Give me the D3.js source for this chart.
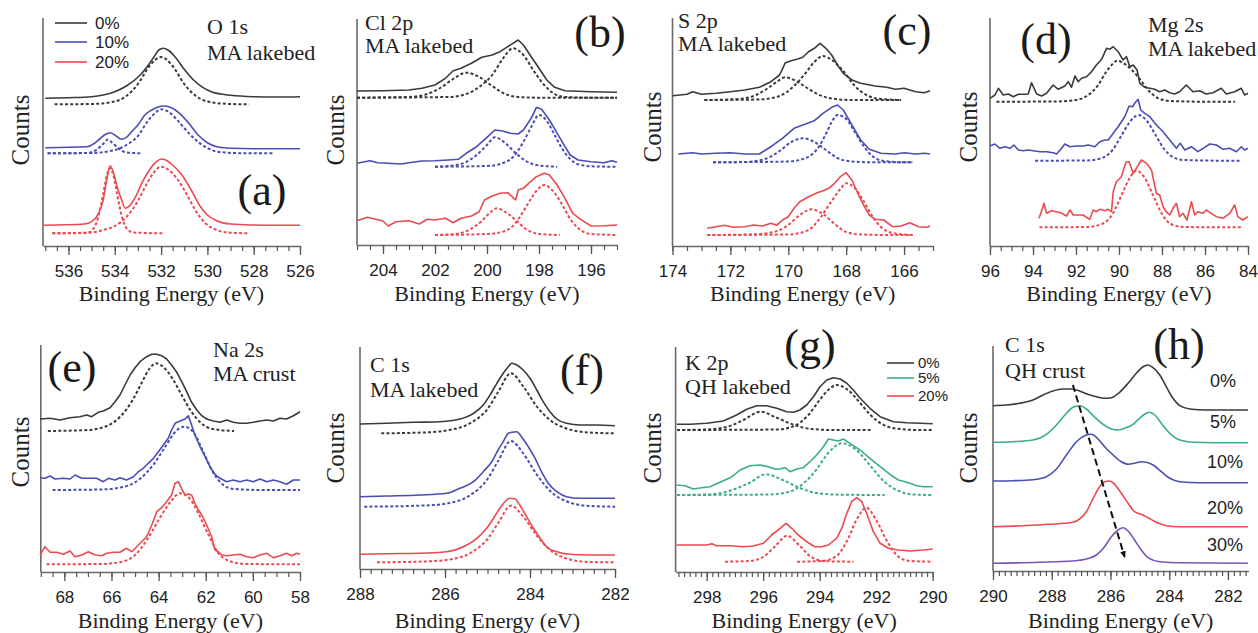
<!DOCTYPE html>
<html>
<head>
<meta charset="utf-8">
<script src="https://cdn.jsdelivr.net/npm/d3@7"></script>
<style>
  body { margin: 0; background: #fff; }
  svg { display: block; }
</style>
</head>
<body>
<div class="chart"></div>
<script>
// ---------- 데이터: [Binding Energy (eV), Counts(임의 단위, 오프셋 포함)] ----------

// (a) O 1s MA lakebed
const aTicks = [536, 534, 532, 530, 528, 526];
const aBlack = [[537,147.7],[536,148.3],[535,149.3],[534.5,151],[534,154.3],[533.5,160],[533,168.7],[532.6,179.3],[532.3,189.3],[532.1,196],[531.9,197.7],[531.7,196],[531.4,189.3],[531,176.7],[530.6,166],[530.2,158.7],[529.8,154],[529,150.7],[528,149.3],[527,149],[526,149.3]];
const aBlackFit = [[536.6,141.7],[535,142],[534,144.5],[533.5,150],[533,162],[532.5,180],[532,189],[531.5,180],[531,162],[530.5,150],[530,144.5],[529,142],[528.2,141.7]];
const aBlue = [[537,98.3],[535.2,99.3],[535,101],[534.7,106],[534.4,111.7],[534.2,113.3],[534,111],[533.7,106.7],[533.5,108.7],[533.2,116],[533,121],[532.7,131],[532.4,136],[532.1,139.3],[531.9,140],[531.6,138.7],[531.2,132.7],[530.8,122.7],[530.4,111],[530,103.3],[529.6,99.3],[529,97.7],[528,97.3],[527,97.3],[526,97.3]];
const aBlueFit1 = [[536.9,92.7],[535.2,93],[534.8,96],[534.5,102],[534.3,106.5],[534.1,103],[533.8,97],[533.5,93.5],[532.8,92.7]];
const aBlueFit2 = [[536.9,92.7],[535,93],[534,96],[533.5,101],[533,110],[532.6,124],[532.3,132],[532,136.7],[531.7,134.5],[531.3,126],[531,118],[530.5,106],[530,98],[529.5,94],[528.5,92.8],[527.1,92.7]];
const aRed = [[537.1,20.7],[535.3,22],[535,24.3],[534.7,32.7],[534.5,46],[534.35,66],[534.2,80.3],[534.05,72.7],[533.9,59.3],[533.7,46],[533.55,37.7],[533.4,39.3],[533.1,49.3],[532.8,64.3],[532.5,76],[532.2,84.3],[532,87],[531.8,86],[531.5,81],[531.1,71],[530.7,56],[530.3,39.3],[530,31],[529.6,25.3],[529,22],[528,21],[527,20.7],[526,20.7]];
const aRedFit1 = [[536.7,12.7],[535.2,13],[534.9,18],[534.7,30],[534.5,52],[534.35,70],[534.2,77.7],[534.05,70],[533.9,52],[533.7,30],[533.5,18],[533.2,13.5],[531.9,12.7]];
const aRedFit2 = [[536.7,12.7],[535,13.5],[534.5,16],[534,20],[533.5,29],[533,45],[532.6,63],[532.3,74],[532,79.3],[531.7,76.5],[531.3,67],[530.9,52],[530.5,35],[530.1,23],[529.6,16],[529,13.3],[528.2,12.7]];

// (b) Cl 2p MA lakebed
const bTicks = [204, 202, 200, 198, 196];
const bBlack = [[205,154],[204,154.3],[203,155],[202.5,156.7],[202,160],[201.6,166.7],[201.3,174.3],[201,176.7],[200.6,181.7],[200.2,187.7],[199.8,190],[199.5,193.3],[199.2,198.3],[199,201.7],[198.8,205],[198.6,200],[198.3,188.3],[198,176.7],[197.7,165],[197.4,157.7],[197,154.3],[196,153.3],[195,152.7]];
const bBlackFit1 = [[205,147.3],[203,148],[202.3,151],[201.8,157],[201.3,166],[200.8,172.3],[200.3,168],[199.8,159],[199.3,151],[198.8,148],[198,147.3],[195,147.3]];
const bBlackFit2 = [[205,147.3],[201.5,148],[200.8,151],[200.3,158],[199.8,170],[199.4,186],[199,196.7],[198.6,190],[198.2,174],[197.8,160],[197.4,151],[197,148],[196,147.3],[195,147.3]];
const bBlue = [[205,81.7],[204.5,84.3],[204.2,82.3],[203.8,81.7],[203.3,81],[203,82.3],[202.5,84],[202,84.3],[201.5,85],[201.1,85.7],[200.8,91.7],[200.4,98.3],[200,107.7],[199.7,115],[199.4,114],[199.1,111.7],[198.8,111],[198.6,115],[198.3,126.7],[198.1,137.7],[197.9,135.7],[197.6,125],[197.3,111.7],[197,98.3],[196.8,90],[196.5,85],[196,83.3],[195.5,82.3],[195.2,84.3],[195,82.7]];
const bBlueFit1 = [[202,78.3],[201.3,79.5],[200.8,83],[200.4,90],[200,100],[199.7,107.7],[199.3,102],[198.9,92],[198.5,84],[198,79.5],[197.3,78.3]];
const bBlueFit2 = [[202,78.3],[200,79],[199.5,81],[199,88],[198.6,103],[198.3,118],[198,130],[197.7,124],[197.4,110],[197.1,96],[196.8,86],[196.4,80],[195.8,78.5],[195,78.3]];
const bRed = [[205,24.3],[204.6,27.7],[204,24],[203.8,19],[203.5,23.3],[203,24.3],[202.6,21],[202.3,25.7],[202,25],[201.6,26.7],[201.3,22.3],[201,26.7],[200.6,29],[200.3,33.3],[200.1,45],[199.8,49],[199.5,51.7],[199.2,52.3],[198.9,45],[198.8,55],[198.6,56.7],[198.4,61.7],[198.1,68.3],[197.8,71.7],[197.6,70],[197.3,60],[197,46.7],[196.7,31.7],[196.4,25.7],[196,19],[195.5,19.3],[195,20]];
const bRedFit1 = [[202,10],[201.2,11],[200.7,15],[200.2,24],[199.9,32],[199.6,36.7],[199.3,33],[198.9,25],[198.5,16],[198,11],[197.2,10]];
const bRedFit2 = [[202,10],[200,11],[199.3,14],[198.9,22],[198.5,38],[198.1,54],[197.8,60],[197.5,55],[197.1,40],[196.8,26],[196.4,15],[196,11],[195,10]];

// (c) S 2p MA lakebed
const cTicks = [174, 172, 170, 168, 166];
const cBlack = [[174,150.3],[173.5,151.7],[173.3,154.3],[173,151.7],[172.5,152.7],[172,154.3],[171.5,156],[171,158.7],[170.6,164.3],[170.3,171],[170.1,183.3],[169.9,185.3],[169.7,186.7],[169.5,188.7],[169.3,194.3],[169.1,197.7],[168.9,202.7],[168.7,197.7],[168.5,191],[168.3,181],[168.1,172.7],[167.8,166],[167.5,162.7],[167,160],[166.6,158.7],[166.3,156.7],[166,157.7],[165.6,154.3],[165.3,153.3],[165.1,155.3]];
const cBlackFit1 = [[172.9,146],[172,146.5],[171.3,149],[170.8,156],[170.4,164],[170.1,168.7],[169.8,166],[169.4,159],[169,152],[168.5,147.5],[167.8,146],[166.1,146]];
const cBlackFit2 = [[172.9,146],[171,146.5],[170.3,150],[169.8,160],[169.4,173],[169.1,184],[168.8,190],[168.5,186],[168.1,175],[167.7,160],[167.3,151],[166.8,147],[166.1,146]];
const cBlue = [[173.8,92],[173.3,93.3],[173,92],[172.5,92.7],[172,93.3],[171.5,92],[171,92],[170.6,99.3],[170.2,107.7],[169.8,117.7],[169.5,121],[169.1,125.3],[168.8,132.7],[168.5,138.7],[168.3,141],[168.1,136],[167.8,121],[167.5,106],[167.2,96.7],[166.8,92.7],[166.3,92],[166,93.3],[165.6,92],[165.3,92.7],[165.1,92]];
const cBlueFit1 = [[172.6,83.7],[171.5,84],[170.8,87],[170.3,95],[169.9,104],[169.5,107.7],[169.1,104],[168.7,96],[168.3,88],[167.8,84.5],[167,83.7],[165.7,83.7]];
const cBlueFit2 = [[172.6,83.7],[170,84.5],[169.4,88],[169,97],[168.7,112],[168.5,124],[168.3,131],[168,127],[167.7,114],[167.4,100],[167.1,90],[166.7,85],[166,83.7],[165.7,83.7]];
const cRed = [[172.8,17.7],[172.5,19.3],[172.2,20.7],[171.9,18.7],[171.5,19.3],[171.2,21],[170.9,20],[170.6,22.7],[170.4,20.7],[170.2,26],[170,29.3],[169.8,37.7],[169.6,44.3],[169.3,49.3],[169,53.3],[168.8,55.3],[168.6,57.7],[168.4,62.7],[168.2,69.3],[168,73.3],[167.8,66],[167.6,52.7],[167.4,41],[167.2,31],[167,26.7],[166.7,26],[166.4,19.3],[166.1,20],[165.8,23.3],[165.5,19.3],[165.2,18.7],[165.1,20]];
const cRedFit1 = [[172.8,11],[171.3,11.5],[170.5,14],[170,21],[169.6,31],[169.2,36.7],[168.8,32],[168.4,22],[168,14],[167.5,11.5],[166.5,11],[165.7,11]];
const cRedFit2 = [[172.8,11],[170,11.5],[169.3,16],[168.9,28],[168.5,45],[168.2,57],[168,62.7],[167.7,58],[167.4,45],[167.1,30],[166.8,19],[166.4,13],[165.7,11]];

// (d) Mg 2s MA lakebed
const dTicks = [96, 94, 92, 90, 88, 86, 84];
const dBlack = [[96,147.7],[95.77,151],[95.61,157.7],[95.38,151],[95.15,152],[94.92,149.3],[94.68,151.7],[94.37,151.7],[94.22,152],[94.07,163.3],[93.83,152],[93.6,150],[93.37,152.7],[93.06,161],[92.83,156.7],[92.52,160],[92.36,164.3],[92.21,158.7],[92.05,170],[91.9,164.3],[91.74,167.7],[91.51,169.3],[91.28,174.3],[91.05,181],[90.81,186.7],[90.58,197.7],[90.43,196.7],[90.27,199.3],[90.04,194.3],[89.81,186],[89.65,189.3],[89.5,179.3],[89.34,181],[89.16,176],[89.03,162.7],[88.8,158.7],[88.57,157.7],[88.34,156.7],[88.11,154.3],[87.87,156],[87.64,153.3],[87.41,152],[87.18,154.3],[86.87,161],[86.56,154.3],[86.25,155.3],[85.94,152],[85.63,153.3],[85.24,157.7],[85.01,152],[84.62,154.3],[84.31,157.7],[84.16,151],[84,152.7]];
const dBlackFit = [[95.7,144.3],[93,144.5],[92,146],[91.5,150],[91,160],[90.6,174],[90.3,182],[90.1,185.3],[89.8,183],[89.4,176],[89,166],[88.6,155],[88.2,148],[87.6,145],[86,144.3],[84.6,144.3]];
const dBlue = [[96,100],[95.77,102],[95.54,97.7],[95.3,99.3],[95.07,97.7],[94.89,101],[94.68,96],[94.45,95.3],[94.22,96],[93.99,95.3],[93.68,94.3],[93.37,94.3],[93.06,93.3],[92.9,92],[92.67,97.7],[92.52,102],[92.28,99.3],[91.98,100],[91.67,100],[91.43,101],[91.12,99.3],[90.89,104.3],[90.66,106],[90.5,106],[90.27,112.7],[90.04,119.3],[89.73,129.3],[89.53,140],[89.37,139.3],[89.27,142.7],[89.11,146.7],[88.99,136],[88.8,132.7],[88.57,129.3],[88.26,121],[87.95,114.3],[87.64,106],[87.33,97.7],[87.15,102.7],[86.94,96],[86.63,99.3],[86.33,94.3],[86.09,97.7],[85.78,102],[85.47,101],[85.16,96.7],[84.85,97.7],[84.54,94.3],[84.31,99.3],[84.16,96],[84,97.7]];
const dBlueFit = [[93.9,85.3],[91.5,85.5],[90.8,88],[90.3,96],[89.9,110],[89.5,124],[89.1,131],[88.7,125],[88.3,111],[87.9,97],[87.5,89],[87,86],[85,85.3],[84.3,85.3]];
const dRed = [[93.72,27.7],[93.6,35.3],[93.49,42.7],[93.37,32.7],[93.14,35.3],[92.9,34.3],[92.67,32.7],[92.44,30],[92.28,36],[92.13,31],[91.9,31],[91.67,31],[91.36,26.7],[91.2,36],[91.05,34.3],[90.89,36.7],[90.66,35.3],[90.5,36.7],[90.35,34.3],[90.27,54.3],[90.12,64.3],[89.89,69.3],[89.68,83.7],[89.53,84.3],[89.34,72.7],[89.19,77.7],[88.96,86],[88.72,82.7],[88.49,76],[88.26,52.7],[88.11,51],[87.95,39.3],[87.8,34.3],[87.64,31],[87.49,37.7],[87.33,42.7],[87.18,29.3],[87.02,32.7],[86.84,26],[86.63,44.3],[86.48,31],[86.33,34.3],[86.09,32.7],[85.94,36],[85.71,32.7],[85.47,29.3],[85.16,27.7],[84.85,32.7],[84.62,41],[84.47,29.3],[84.24,26],[84,29.3]];
const dRedFit = [[93.7,18.7],[91.5,19],[90.8,22],[90.3,32],[89.9,50],[89.5,68],[89.2,75.3],[88.8,68],[88.4,50],[88,32],[87.6,22],[87,19],[85,18.7],[84.3,18.7]];

// (e) Na 2s MA crust
const eTicks = [68, 66, 64, 62, 60, 58];
const eBlack = [[69.03,153],[68.61,153.7],[68.18,152],[67.76,154.3],[67.34,155.3],[67.05,157],[66.84,155.3],[66.56,159.7],[66.35,161],[66.06,164.3],[65.85,170.3],[65.64,177],[65.43,187],[65.21,197],[65,204.3],[64.79,210.3],[64.51,215.3],[64.29,217.7],[64.08,217.7],[63.87,216.3],[63.66,213],[63.45,207],[63.23,199.7],[63.02,190.3],[62.81,180.3],[62.6,169.7],[62.38,162],[62.17,156.3],[61.96,153],[61.68,151],[61.39,149.7],[61.11,152],[60.83,149.7],[60.55,148.7],[60.26,148.7],[59.98,149.7],[59.7,151],[59.41,152],[59.13,151],[58.85,153.7],[58.57,153],[58.28,156.3],[58,160.3]];
const eBlackFit = [[68.7,141],[67,142],[66.2,146],[65.6,156],[65.1,172],[64.7,190],[64.4,203],[64.1,208.7],[63.8,205],[63.4,193],[63,176],[62.6,160],[62.2,149],[61.7,143],[60.8,141]];
const eBlue = [[69.03,94.3],[68.82,93.7],[68.61,96],[68.4,93],[68.04,93.7],[67.76,93],[67.55,97],[67.26,93.7],[66.98,93.7],[66.63,93.7],[66.35,90.3],[66.13,93.7],[65.85,92],[65.64,94.3],[65.36,92],[65.07,95.3],[64.86,100.3],[64.65,103.7],[64.44,108.7],[64.22,113.7],[64.01,120.3],[63.8,127],[63.59,133.7],[63.45,142],[63.3,148.7],[63.09,151],[62.88,153],[62.74,156.3],[62.6,147],[62.46,137],[62.24,125.3],[62.03,115.3],[61.82,105.3],[61.61,97.7],[61.39,93.7],[61.11,90.3],[60.83,92],[60.55,90.3],[60.26,92],[59.98,90.3],[59.7,93],[59.41,90.3],[59.13,92],[58.85,90.3],[58.57,87.7],[58.28,92],[58,92]];
const eBlueFit = [[68.5,82],[66.5,82.5],[65.5,85],[64.8,93],[64.2,108],[63.7,126],[63.3,140],[62.9,145.3],[62.5,139],[62.1,120],[61.7,100],[61.3,88],[60.8,83],[59.5,82],[58,82]];
const eRed = [[69.03,17],[68.82,25.3],[68.61,19.7],[68.33,19.7],[68.04,17.7],[67.76,21],[67.55,15.3],[67.26,17],[66.98,20.3],[66.7,17],[66.42,16.3],[66.2,18.7],[65.92,19.7],[65.64,19.7],[65.36,23.7],[65.14,20.3],[64.93,25.3],[64.72,30.3],[64.51,35.3],[64.29,47],[64.08,60.3],[63.87,64.3],[63.66,70.3],[63.45,77],[63.3,88.7],[63.16,90.3],[63.02,83],[62.88,77],[62.74,78],[62.6,77],[62.46,68.7],[62.31,62],[62.17,57],[61.96,47],[61.75,35.3],[61.61,22],[61.47,20.3],[61.32,17],[61.11,16.3],[60.83,17],[60.55,17.7],[60.26,15.3],[59.98,14.3],[59.7,17],[59.41,18.7],[59.13,14.3],[58.85,16.3],[58.57,18.7],[58.35,16.3],[58.14,18.7],[58,17.7]];
const eRedFit = [[68.75,7.7],[66.5,8],[65.6,10],[65,17],[64.5,32],[64,52],[63.5,70],[63.1,78.7],[62.7,74],[62.3,58],[61.9,38],[61.5,20],[61,11],[60.3,8],[58,7.7]];

// (f) C 1s MA lakebed
const fTicks = [288, 286, 284, 282];
const fBlack = [[288,145],[287.37,145.7],[286.75,146.7],[286.12,147.3],[285.65,150],[285.33,155.7],[285.1,164],[284.94,174],[284.78,185.7],[284.63,195.7],[284.51,202.3],[284.43,205.7],[284.31,204],[284.16,199],[284,190.7],[283.84,179],[283.69,167.3],[283.53,157.3],[283.37,150],[283.14,145.7],[282.82,144],[282.43,144],[282,143.3]];
const fBlackFit = [[287.5,135.7],[286.5,136.5],[285.9,139],[285.4,146],[285,160],[284.75,177],[284.45,195.7],[284.15,182],[283.85,163],[283.5,148],[283.1,140],[282.6,136.5],[282,135.7]];
const fBlue = [[288,72.3],[287.37,73],[286.59,74],[285.96,75.7],[285.65,80.7],[285.33,87.3],[285.1,97.3],[284.9,107.3],[284.75,119],[284.63,127.3],[284.51,135.7],[284.43,136.7],[284.31,137.3],[284.2,132.3],[284.04,122.3],[283.88,110.7],[283.73,97.3],[283.57,85.7],[283.37,77.3],[283.14,72.3],[282.82,70.7],[282.43,70.7],[282,70.7]];
const fBlueFit = [[287.9,62.3],[286.5,63.5],[285.9,66],[285.4,74],[285,90],[284.75,108],[284.45,128],[284.15,115],[283.85,95],[283.5,77],[283.1,67],[282.6,63],[282,62.3]];
const fRed = [[288,14.7],[287.37,15.3],[286.59,15.7],[285.96,17.3],[285.53,23],[285.25,30.7],[285.02,40.7],[284.86,50.7],[284.71,60.7],[284.59,67.3],[284.47,70.7],[284.35,70],[284.24,64],[284.08,52.3],[283.92,40.7],[283.76,30.7],[283.61,22.3],[283.37,17.3],[283.06,14.7],[282.67,14],[282,14]];
const fRedFit = [[287.6,6.7],[286.5,7.5],[285.9,9.5],[285.4,16],[285,30],[284.75,46],[284.45,63.3],[284.15,52],[283.85,34],[283.5,18],[283.1,10],[282.6,7],[282,6.7]];

// (g) K 2p QH lakebed
const gTicks = [298, 296, 294, 292, 290];
const gBlack = [[299.06,147.7],[298.59,147.7],[298,148.7],[297.41,151],[296.94,157],[296.58,162.7],[296.23,166.3],[295.88,166.3],[295.52,163.7],[295.17,160.3],[294.93,159.7],[294.7,162],[294.46,167],[294.22,175.3],[293.99,185.3],[293.75,192],[293.52,194.3],[293.28,193],[293.04,188.7],[292.81,182],[292.57,173.7],[292.22,163.7],[291.86,155.3],[291.39,150.3],[290.92,149.3],[290.45,148.7],[290,148.3]];
const gBlackFit1 = [[299.05,142],[298,142.5],[297.3,145],[296.7,152],[296.1,160.3],[295.5,154],[294.9,147],[294.3,143],[293.5,142],[292.2,142]];
const gBlackFit2 = [[299.05,142],[295.5,142.5],[294.9,146],[294.4,157],[294,172],[293.7,182],[293.4,187],[293,182],[292.6,170],[292.2,157],[291.8,148],[291.3,143.5],[290.5,142],[290,142]];
const gGreen = [[299.06,87],[298.77,86.3],[298.47,83],[298.18,84.3],[297.88,85.3],[297.53,89.7],[297.17,94.3],[297,97.7],[296.82,102],[296.47,106.3],[296.11,107],[295.82,105.3],[295.58,103],[295.4,103],[295.23,104.3],[295.05,100.3],[294.81,103],[294.58,104.3],[294.34,110.3],[294.11,117],[293.87,125.3],[293.69,133],[293.52,132],[293.34,131],[293.16,133],[292.93,128.7],[292.57,122],[292.22,113.7],[291.86,105.3],[291.51,97.7],[291.22,92],[290.98,90.3],[290.8,88.7],[290.57,86.3],[290.33,85.3],[290,85.3]];
const gGreenFit1 = [[299.05,77],[298,77.5],[297.2,81],[296.5,89],[295.9,97.7],[295.3,92],[294.7,84],[294.1,79],[293.3,77.3],[291.7,77]];
const gGreenFit2 = [[299.05,77],[295.8,77.5],[295.1,80],[294.6,88],[294.1,103],[293.7,119],[293.2,128.7],[292.7,122],[292.2,106],[291.7,90],[291.2,81],[290.7,77.5],[290,77]];
const gRed = [[299.06,27],[298.59,27],[298,27],[297.82,28.3],[297.65,26.3],[297.17,26.3],[296.7,25.3],[296.35,26],[295.99,28.7],[295.7,37],[295.4,43.7],[295.19,48.7],[294.99,43.7],[294.76,37],[294.46,30.3],[294.17,25.3],[293.93,25.3],[293.69,27],[293.4,33.7],[293.22,43.7],[293.04,58.7],[292.87,70.3],[292.69,74.3],[292.51,70.3],[292.34,58.7],[292.1,40.3],[291.86,28.7],[291.57,23.7],[291.22,22],[290.8,21],[290.33,22],[290,23]];
const gRedFit1 = [[297.35,10.3],[296.5,11],[296,15],[295.6,25],[295.15,36.3],[294.7,26],[294.3,15],[293.8,10.8],[292.8,10.3]];
const gRedFit2 = [[294.8,10.3],[293.9,11],[293.4,16],[293,33],[292.7,52],[292.35,64.3],[292,52],[291.6,30],[291.2,15],[290.8,11],[290,10.3]];

// (h) C 1s QH crust
const hTicks = [290, 288, 286, 284, 282];
const h0 = [[290,165.3],[289.55,166],[289.09,167.7],[288.64,171],[288.3,176],[287.96,180],[287.62,182],[287.33,182],[287.05,180],[286.77,176.7],[286.48,174.3],[286.2,172.7],[285.97,173.3],[285.69,178.7],[285.4,187.7],[285.12,197.7],[284.89,204.3],[284.72,206],[284.55,203.3],[284.32,196],[284.1,184.3],[283.87,172.7],[283.64,165.3],[283.3,162],[282.74,161],[282.05,161],[281.32,161]];
const h5 = [[290,128.7],[289.32,129.3],[288.64,131],[288.18,136.7],[287.84,146],[287.5,157.7],[287.28,163.7],[287.05,165.3],[286.82,162],[286.59,155.3],[286.25,146.7],[285.97,142],[285.74,141],[285.52,142.7],[285.23,146.7],[285.01,152.7],[284.84,156.7],[284.67,158.7],[284.49,156],[284.27,147.7],[283.98,137.7],[283.64,131],[283.19,128.7],[282.51,128.3],[281.32,128.3]];
const h10 = [[290,90],[289.32,90.3],[288.64,91.3],[288.18,94.3],[287.84,102],[287.5,116],[287.16,129.3],[286.88,135.3],[286.65,136.7],[286.42,132],[286.2,124.3],[285.91,116],[285.63,109.3],[285.4,106.7],[285.18,107.7],[284.95,109.3],[284.78,108.7],[284.55,106],[284.27,99.3],[283.98,92.7],[283.64,89.3],[282.96,88.3],[281.32,88.3]];
const h20 = [[290,44.3],[288.98,45.3],[288.07,46.7],[287.28,48.7],[287.05,52],[286.82,59.3],[286.59,72.7],[286.37,84.3],[286.2,89.3],[286.03,90],[285.86,86.7],[285.63,77.7],[285.4,67.7],[285.18,59.3],[284.95,56.7],[284.72,53.3],[284.44,48.7],[284.1,45.3],[283.64,44.3],[282.74,44.3],[281.32,44.3]];
const h30 = [[290,7.7],[288.41,8.7],[287.28,10],[286.82,12],[286.48,16],[286.2,24.3],[285.97,34.3],[285.74,41],[285.57,43.3],[285.4,40],[285.18,31],[284.95,21],[284.72,13.3],[284.32,9.3],[283.64,8.3],[281.32,7.7]];
const hArrow = [[287.28,186],[285.52,14.3]];
const hLabels = ['0%', '5%', '10%', '20%', '30%'];

// ---------- 스타일 ----------
const C = { k: '#3a3a3a', b: '#4a4db3', r: '#ea4a50', g: '#3aae88', p: '#7a55b8' };
const SERIF = "'Liberation Serif', 'Times New Roman', serif";
const SANS = "'Liberation Sans', Arial, sans-serif";

// S: 실선(측정), F: 점선(피팅)
const S = (data, color, smooth) => ({ data, color, dash: false, smooth });
const F = (data, color) => ({ data, color, dash: true, smooth: true });

// note: [x, 첫 줄 baseline, 둘째 줄 baseline, 첫 줄, 둘째 줄]
const panels = [
  { left: 43, right: 300, top: 18, bottom: 246, domain: [537.1, 526], ticks: aTicks, minor: 0.5,
    counts: [20, 130], note: [207, 34, 60, 'O 1s', 'MA lakebed'], letter: ['(a)', 262, 205],
    legend: { x0: 55, x1: 87, tx: 95, rows: [[23, C.k, '0%'], [42, C.b, '10%'], [62, C.r, '20%']], size: 17 },
    series: [S(aBlack, C.k, true), F(aBlackFit, C.k), S(aBlue, C.b, true), F(aBlueFit1, C.b), F(aBlueFit2, C.b),
             S(aRed, C.r, true), F(aRedFit1, C.r), F(aRedFit2, C.r)] },
  { left: 357, right: 617, top: 19, bottom: 245, domain: [205, 195], ticks: bTicks, minor: 0.5,
    counts: [335, 130], note: [365, 30, 53, 'Cl 2p', 'MA lakebed'], letter: ['(b)', 600, 47],
    series: [S(bBlack, C.k), F(bBlackFit1, C.k), F(bBlackFit2, C.k), S(bBlue, C.b), F(bBlueFit1, C.b), F(bBlueFit2, C.b),
             S(bRed, C.r), F(bRedFit1, C.r), F(bRedFit2, C.r)] },
  { left: 672.5, right: 933, top: 18, bottom: 246, domain: [174, 165], ticks: cTicks, minor: 0.5,
    counts: [652, 127], note: [678, 27.5, 51, 'S 2p', 'MA lakebed'], letter: ['(c)', 907, 45],
    series: [S(cBlack, C.k), F(cBlackFit1, C.k), F(cBlackFit2, C.k), S(cBlue, C.b), F(cBlueFit1, C.b), F(cBlueFit2, C.b),
             S(cRed, C.r), F(cRedFit1, C.r), F(cRedFit2, C.r)] },
  { left: 990, right: 1248, top: 18, bottom: 246, domain: [96, 84], ticks: dTicks, minor: 0.5,
    counts: [968, 127], note: [1148, 31.5, 55.5, 'Mg 2s', 'MA lakebed'], letter: ['(d)', 1046, 54],
    series: [S(dBlack, C.k), F(dBlackFit, C.k), S(dBlue, C.b), F(dBlueFit, C.b), S(dRed, C.r), F(dRedFit, C.r)] },
  { left: 40.8, right: 300, top: 345, bottom: 572, domain: [69, 58], ticks: eTicks, minor: 0.5,
    counts: [20, 452], note: [213, 357, 381, 'Na 2s', 'MA crust'], letter: ['(e)', 72, 382],
    series: [S(eBlack, C.k), F(eBlackFit, C.k), S(eBlue, C.b), F(eBlueFit, C.b), S(eRed, C.r), F(eRedFit, C.r)] },
  { left: 360, right: 615, top: 347, bottom: 569, domain: [288, 282], ticks: fTicks, minor: 0.25,
    counts: [335, 448], note: [370, 372, 397, 'C 1s', 'MA lakebed'], letter: ['(f)', 582, 385],
    series: [S(fBlack, C.k, true), F(fBlackFit, C.k), S(fBlue, C.b, true), F(fBlueFit, C.b), S(fRed, C.r, true), F(fRedFit, C.r)] },
  { left: 675.6, right: 932.7, top: 347, bottom: 572, domain: [299.1, 290], ticks: gTicks, minor: 0.2,
    counts: [652, 448], note: [685, 369.5, 393.5, 'K 2p', 'QH lakebed'], letter: ['(g)', 810, 360],
    legend: { x0: 887, x1: 914, tx: 918, rows: [[363, C.k, '0%'], [378, C.g, '5%'], [396, C.r, '20%']], size: 15 },
    series: [S(gBlack, C.k), F(gBlackFit1, C.k), F(gBlackFit2, C.k), S(gGreen, C.g), F(gGreenFit1, C.g), F(gGreenFit2, C.g),
             S(gRed, C.r), F(gRedFit1, C.r), F(gRedFit2, C.r)] },
  { left: 993, right: 1248.5, top: 346, bottom: 571, domain: [290, 281.3], ticks: hTicks, minor: 0.2,
    counts: [968, 448], note: [1005, 352, 378, 'C 1s', 'QH crust'], letter: ['(h)', 1179, 359],
    pct: [[1223, 381], [1223, 422], [1225, 462], [1225, 508], [1225, 545]],
    arrow: hArrow,
    series: [S(h0, C.k, true), S(h5, C.g, true), S(h10, C.b, true), S(h20, C.r, true), S(h30, C.p, true)] }
];

// ---------- 차트 영역 ----------
const W = 1258, H = 633;
const svg = d3.select('.chart').append('svg')
  .attr('width', W).attr('height', H)
  .attr('viewBox', `0 0 ${W} ${H}`);

svg.append('defs').append('marker')
  .attr('id', 'arrowhead')
  .attr('viewBox', '0 0 10 10').attr('refX', 8).attr('refY', 5)
  .attr('markerWidth', 7).attr('markerHeight', 9).attr('markerUnits', 'userSpaceOnUse')
  .attr('orient', 'auto')
  .append('path').attr('d', 'M0,1L10,5L0,9Z').attr('fill', '#111');

function drawPanel(p) {
  const x = d3.scaleLinear(p.domain, [p.left, p.right]);
  const y = d3.scaleLinear([0, p.bottom - p.top], [p.bottom, p.top]);
  const g = svg.append('g');

  // y축(눈금 없음)
  g.append('line')
    .attr('x1', p.left).attr('x2', p.left)
    .attr('y1', p.top).attr('y2', p.bottom)
    .attr('stroke', '#6a6a6a').attr('stroke-width', 1.6);

  // x축 보조 눈금 (레이블 없음)
  const lo = Math.min(...p.domain), hi = Math.max(...p.domain);
  const minor = d3.range(Math.ceil(lo / p.minor - 1e-6) * p.minor, hi + 1e-6, p.minor);
  g.append('g')
    .attr('transform', `translate(0,${p.bottom})`)
    .call(d3.axisBottom(x).tickValues(minor).tickSize(5).tickSizeOuter(0))
    .call(a => a.selectAll('.tick text').remove())
    .call(a => a.select('.domain').attr('stroke', '#6a6a6a').attr('stroke-width', 1.6))
    .call(a => a.selectAll('.tick line').attr('stroke', '#555').attr('stroke-width', 1.2));

  // x축 주 눈금 + 레이블
  g.append('g')
    .attr('transform', `translate(0,${p.bottom})`)
    .call(d3.axisBottom(x).tickValues(p.ticks).tickSize(9).tickSizeOuter(0).tickPadding(10).tickFormat(d3.format('d')))
    .call(a => a.select('.domain').remove())
    .call(a => a.selectAll('.tick line').attr('stroke', '#555').attr('stroke-width', 1.3))
    .selectAll('text')
      .attr('font-family', SANS).attr('font-size', 17).attr('fill', '#222');

  // 축 제목
  g.append('text')
    .attr('x', (p.left + p.right) / 2)
    .attr('y', p.bottom > 400 ? 628 : 301)
    .attr('text-anchor', 'middle')
    .attr('font-family', SERIF).attr('font-size', 22).attr('fill', '#222')
    .text('Binding Energy (eV)');
  g.append('text')
    .attr('transform', `translate(${p.counts[0]},${p.counts[1]}) rotate(-90)`)
    .attr('text-anchor', 'middle').attr('dy', '0.35em')
    .attr('font-family', SERIF).attr('font-size', 25).attr('fill', '#222')
    .text('Counts');

  // 스펙트럼 곡선
  p.series.forEach(s => {
    const line = d3.line()
      .x(d => x(d[0])).y(d => y(d[1]))
      .curve(s.smooth ? d3.curveMonotoneX : d3.curveLinear);
    g.append('path')
      .datum(s.data)
      .attr('d', line)
      .attr('fill', 'none')
      .attr('stroke', s.color)
      .attr('stroke-width', s.dash ? 2 : 1.6)
      .attr('stroke-dasharray', s.dash ? '3,2.2' : null)
      .attr('stroke-linejoin', 'round');
  });

  // 화살표(h)
  if (p.arrow) {
    g.append('line')
      .attr('x1', x(p.arrow[0][0])).attr('y1', y(p.arrow[0][1]))
      .attr('x2', x(p.arrow[1][0])).attr('y2', y(p.arrow[1][1]))
      .attr('stroke', '#111').attr('stroke-width', 2)
      .attr('stroke-dasharray', '7,4')
      .attr('marker-end', 'url(#arrowhead)');
  }

  // 패널 주석 (두 줄을 하나의 text로)
  const [nx, ny1, ny2, l1, l2] = p.note;
  const note = g.append('text')
    .attr('font-family', SERIF).attr('font-size', 22).attr('fill', '#222');
  note.append('tspan').attr('x', nx).attr('y', ny1).text(l1);
  note.append('tspan').attr('x', nx).attr('y', ny2).text(l2);

  g.append('text')
    .attr('x', p.letter[1]).attr('y', p.letter[2])
    .attr('text-anchor', 'middle')
    .attr('font-family', SERIF).attr('font-size', 44).attr('fill', '#1a1a1a')
    .text(p.letter[0]);

  // 범례
  if (p.legend) {
    const L = p.legend;
    L.rows.forEach(([ly, col, t]) => {
      g.append('line').attr('x1', L.x0).attr('x2', L.x1).attr('y1', ly).attr('y2', ly)
        .attr('stroke', col).attr('stroke-width', 1.6);
      g.append('text').attr('x', L.tx).attr('y', ly).attr('dy', '0.35em')
        .attr('font-family', SANS).attr('font-size', L.size).attr('fill', '#222')
        .text(t);
    });
  }

  // h: 농도 레이블
  if (p.pct) {
    p.pct.forEach(([tx, ty], i) => {
      g.append('text').attr('x', tx).attr('y', ty).attr('dy', '0.35em')
        .attr('text-anchor', 'middle')
        .attr('font-family', SANS).attr('font-size', 18).attr('fill', '#222')
        .text(hLabels[i]);
    });
  }
}

panels.forEach(drawPanel);
</script>
</body>
</html>
